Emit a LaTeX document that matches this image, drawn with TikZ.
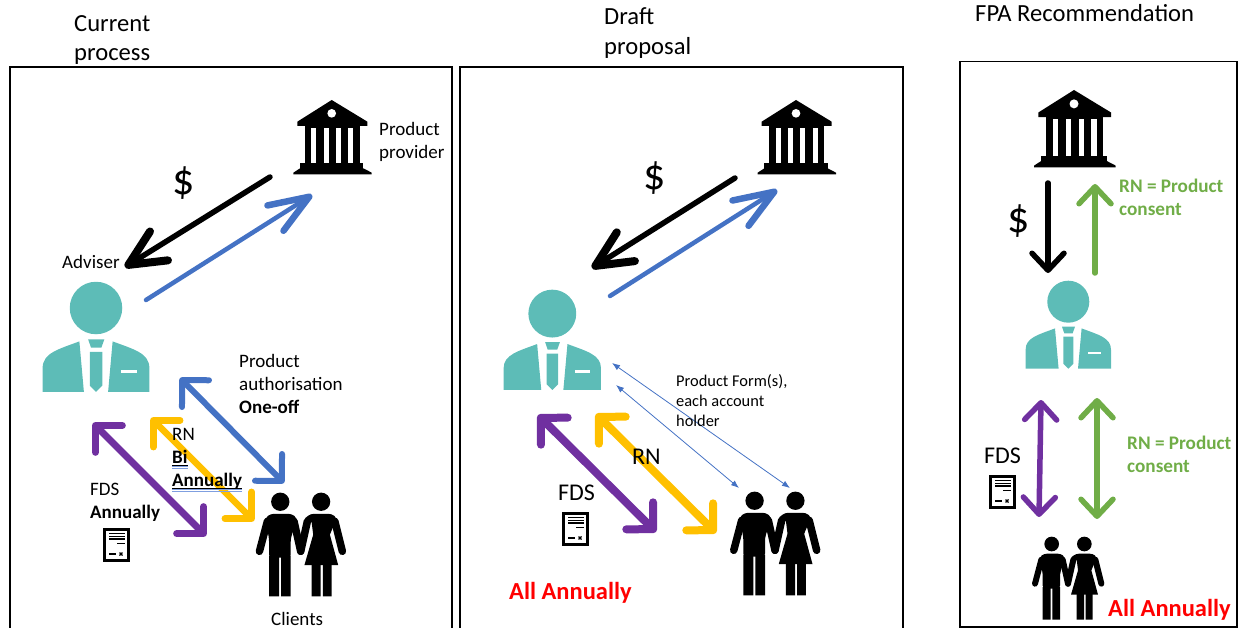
\documentclass[tikz,border=0pt]{standalone}
\usepackage{fontspec}
\setmainfont{Carlito}
\usetikzlibrary{arrows.meta}
\definecolor{adviser teal}{HTML}{5DBCB7}
\definecolor{flow blue}{HTML}{4472C4}
\definecolor{flow yellow}{HTML}{FFC000}
\definecolor{flow purple}{HTML}{7030A0}
\definecolor{flow green}{HTML}{70AD47}
\definecolor{spell blue}{HTML}{7F9FE0}
\newcommand{\spellmark}[1]{\setbox0\hbox{#1}\rlap{\color{spell blue}\rule[-3.5pt]{\wd0}{.7pt}}\rlap{\color{spell blue}\rule[-5.5pt]{\wd0}{.7pt}}\rlap{\rule[-2.2pt]{\wd0}{.8pt}}\box0}
\tikzstyle{label}=[inner sep=0pt, anchor=north west, align=left]
\tikzstyle{title}=[label, font=\fontsize{24.6}{29.5}\selectfont]
\tikzstyle{small}=[label, font=\fontsize{19}{23}\selectfont]
\tikzstyle{tiny}=[label, font=\fontsize{16.4}{20}\selectfont]
\tikzstyle{mid}=[label, font=\fontsize{24}{28}\selectfont]
\tikzstyle{dollar}=[inner sep=0pt, font=\fontsize{44}{46}\selectfont]
\tikzstyle{alert}=[label, red, font=\fontsize{24.5}{29}\bfseries\selectfont]
\tikzstyle{consent}=[label, flow green, font=\fontsize{19.2}{23}\bfseries\selectfont]
\tikzstyle{panel}=[draw=black, line width=1.6pt]
\tikzstyle{single}=[line width=4.5pt, line cap=round, ->, >={Straight Barb[round,length=40pt,width=30pt,line width=6.5pt]}]
\tikzstyle{single black}=[line width=5.5pt, line cap=round, ->, >={Straight Barb[round,length=36pt,width=34pt,line width=8pt]}]
\tikzstyle{updown}=[line width=5.5pt, line cap=round, >={Straight Barb[round,length=17pt,width=32pt]}]
\tikzstyle{square}=[line width=6.5pt, line cap=round, <->, >={Straight Barb[round,length=19pt,width=38pt]}]
\tikzstyle{fine}=[flow blue, line width=.8pt, <->, >={Latex[length=8pt,width=6pt]}]
\tikzset{
  bank/.pic={
    \begin{scope}[scale=#1/3]
      \fill[black] (0,0) -- (107,65) -- (107,78) -- (-103,78) -- (-103,65) -- cycle;
      \fill[white] (0,40) circle[radius=13];
      \fill[black] (-80,78) rectangle (85,195);
      \foreach \gapx in {-61,-24,13,50} \fill[white] (\gapx,83) rectangle ++(15,107);
      \fill[black] (-95,190) rectangle (95,206);
      \fill[black] (-95,205) -- (95,205) -- (120,218) -- (120,223) -- (-115,223) -- (-115,218) -- cycle;
    \end{scope}
  },
  adviser/.pic={
    \begin{scope}[scale=#1,adviser teal]
      \fill (0,0) circle[radius=21];
      \fill (-42.7,67) -- (-42.7,48) .. controls (-42.7,36) and (-30,33) .. (-13.3,26.7) -- (-9.7,67) -- cycle;
      \fill (42.7,67) -- (42.7,48) .. controls (42.7,36) and (30,33) .. (13.3,26.7) -- (9.7,67) -- cycle;
      \fill (-6.3,25) -- (6.7,25) -- (4.3,31.7) -- (-4,31.7) -- cycle;
      \fill (-5,35) -- (5,35) -- (5,62) -- (0,67) -- (-5,62) -- cycle;
      \fill[white] (20,49.8) rectangle (33,52.2);
    \end{scope}
  },
  couple/.pic={
    \begin{scope}[scale=#1/3]
      % Man
      \fill (-49,21) circle[radius=22];
      \fill[rounded corners=3pt] (-85,60) -- (-72,50) -- (-22,50) -- (-9,60) -- (-24,110) -- (-24,155) -- (-76,155) -- (-76,110) -- cycle;
      \fill (-76,150) rectangle (-52,248) (-47,150) rectangle (-24,248);
      \draw[line width=#1*6pt, line cap=round] (-80,68) -- (-99,140) (-16,68) -- (0,140);
      % Woman
      \fill (49,21) circle[radius=22];
      \fill[rounded corners=3pt] (11,60) -- (24,50) -- (74,50) -- (87,60) -- (70,100);
      \fill (24,52) -- (74,52) -- (70,100) -- (90,173) -- (9,173) -- (30,100) -- cycle;
      \fill (26,170) rectangle (48,248) (53,170) rectangle (74,248);
      \draw[line width=#1*6pt, line cap=round] (16,68) -- (0,140) (82,68) -- (100,140);
    \end{scope}
  },
  document/.pic={
    \draw[line width=2.8pt, fill=white] (1.4,1.4) rectangle (25.6,32.6);
    \draw[line width=1.3pt] (6,5.5) -- (22,5.5) (6,8.2) -- (22,8.2) (6,10.9) -- (22,10.9) (14,15.5) -- (22,15.5) (6,26) -- (13,26);
    \draw[line width=1.3pt] (16.5,24.5) -- (19.5,27.5) (16.5,27.5) -- (19.5,24.5);
  }
}

\begin{document}
\begin{tikzpicture}[x=1pt,y=-1pt]
    \clip[use as bounding box] (0,0) rectangle (1241,628);
    
    % Panels
    \draw[panel] (10,67) rectangle (452,650);
    \draw[panel] (460,67) rectangle (903,650);
    \draw[panel] (960,61.5) rectangle (1237,627);
    
    % Titles
    \draw (74,15) node[title] (current) {Current\\process};
    \draw (604,7.5) node[title] (draft) {Draft\\proposal};
    \draw (975,4) node[title] (fpa) {FPA Recommendation};
    
    % Icons
    \pic at (331.7,100) {bank=1};
    \pic at (796,100) {bank=1};
    \pic at (1074,90) {bank=1.04};
    \pic at (96,308) {adviser=1.25};
    \pic at (552.3,313.6) {adviser=1.14};
    \pic at (1068.3,301.7) {adviser=1};
    \pic at (300.7,493) {couple=1.25};
    \pic at (775,492) {couple=1.25};
    \pic at (1068,537) {couple=1};
    \pic at (103,528) {document};
    \pic at (562,512) {document};
    \pic at (989,475) {document};
    
    % Current process
    \coordinate (payfrom) at (270,177);
    \coordinate (payto) at (125,267);
    \coordinate (backfrom) at (146,300);
    \coordinate (backto) at (312,195);
    \coordinate (authtop) at (180,378);
    \coordinate (authend) at (284,483);
    \coordinate (rntop) at (151,418);
    \coordinate (rnend) at (254,521);
    \coordinate (fdstop) at (93,423);
    \coordinate (fdsend) at (206,536);
    \draw[single black] (payfrom) -- (payto);
    \draw[single,flow blue] (backfrom) -- (backto);
    \draw[square,flow blue,line width=6pt] (authtop) -- (authend);
    \draw[square,flow yellow] (rntop) -- (rnend);
    \draw[square,flow purple,line width=7pt] (fdstop) -- (fdsend);
    \draw (184,183) node[dollar] (money) {\$};
    \draw (379,122.5) node[small] (provider) {Product\\provider};
    \draw (62,255.5) node[small] (adviser) {Adviser};
    \draw (239,354.5) node[small] (auth) {Product\\authorisation\\\textbf{One-off}};
    \draw (172,428) node[small] (rn) {RN\\\spellmark{\textbf{Bi}}\\\spellmark{\textbf{Annually}}};
    \draw (90,483) node[small] (fds) {FDS\\\textbf{Annually}};
    \draw (271,612.5) node[small] (clients) {Clients};
    
    % Draft proposal
    \coordinate (draftpayfrom) at (735,178);
    \coordinate (draftpayto) at (592,268);
    \coordinate (draftbackfrom) at (610,296);
    \coordinate (draftbackto) at (777,190);
    \coordinate (formtop) at (612,363);
    \coordinate (formend) at (790,488);
    \coordinate (eachtop) at (616,385);
    \coordinate (eachend) at (739,488);
    \coordinate (draftrntop) at (596,414);
    \coordinate (draftrnend) at (716,533);
    \coordinate (draftfdstop) at (538,415);
    \coordinate (draftfdsend) at (656,532);
    \draw[single black] (draftpayfrom) -- (draftpayto);
    \draw[single,flow blue] (draftbackfrom) -- (draftbackto);
    \draw[fine] (formtop) -- (formend);
    \draw[fine] (eachtop) -- (eachend);
    \draw[square,flow yellow,line width=8pt] (draftrntop) -- (draftrnend);
    \draw[square,flow purple,line width=8pt] (draftfdstop) -- (draftfdsend);
    \draw (655,178) node[dollar] (draftmoney) {\$};
    \draw (676,374) node[tiny] (forms) {Product Form(s),\\each account\\holder};
    \draw (632,449) node[mid] (draftrn) {RN};
    \draw (558,485) node[mid] (draftfds) {FDS};
    \draw (509,582) node[alert] (draftall) {All Annually};
    
    % FPA Recommendation
    \coordinate (fpapayfrom) at (1048,183);
    \coordinate (fpapayto) at (1048,273);
    \coordinate (fpabackfrom) at (1095,273);
    \coordinate (fpabackto) at (1095,184);
    \coordinate (fpafdstop) at (1041,400);
    \coordinate (fpafdsend) at (1039,517);
    \coordinate (fparntop) at (1097,398);
    \coordinate (fparnend) at (1097,519);
    \draw[updown,->] (fpapayfrom) -- (fpapayto);
    \draw[updown,->,flow green] (fpabackfrom) -- (fpabackto);
    \draw[updown,<->,flow purple] (fpafdstop) -- (fpafdsend);
    \draw[updown,<->,flow green] (fparntop) -- (fparnend);
    \draw (1019,221) node[dollar] (fpamoney) {\$};
    \draw (1119,179) node[consent] (fpatopconsent) {RN = Product\\consent};
    \draw (1127,436) node[consent] (fpalowconsent) {RN = Product\\consent};
    \draw (984,448) node[mid] (fpafds) {FDS};
    \draw (1108,599) node[alert] (fpaall) {All Annually};
    
\end{tikzpicture}
\end{document}
